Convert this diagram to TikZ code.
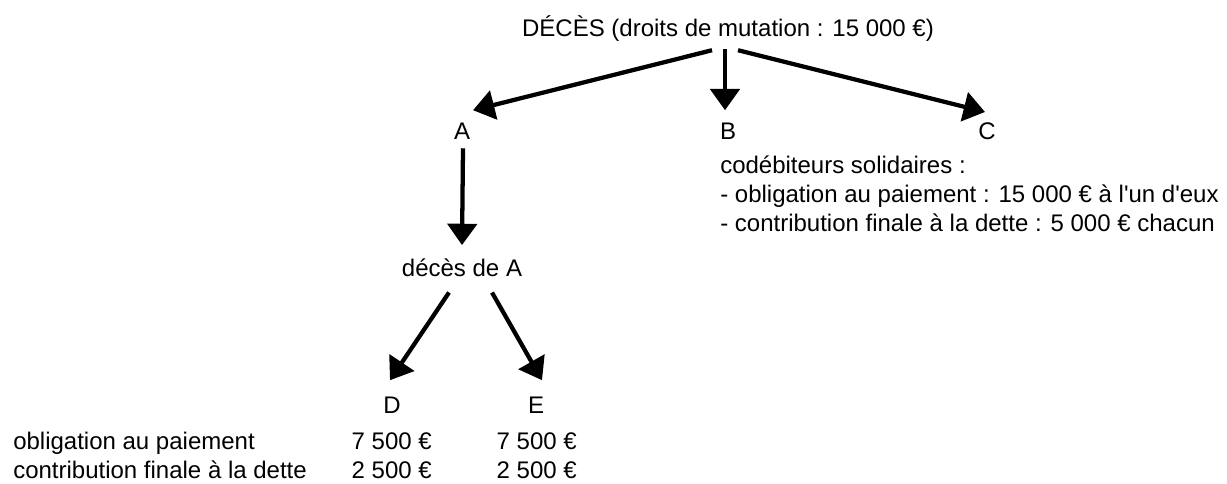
\documentclass[tikz,border=0pt]{standalone}
\usepackage{fontspec}
\setmainfont{Liberation Sans}
\usetikzlibrary{arrows.meta}
\begin{document}
\begin{tikzpicture}[x=0.75pt,y=-0.75pt,
	arr/.style={line width=3.2pt,-{Triangle[length=16pt,width=22pt]}},
	lbl/.style={inner sep=0pt,anchor=base,font=\fontsize{18}{22}\selectfont}]
	\useasboundingbox (0,0) rectangle (1227,484);
	\node[lbl] (deces) at (728,37) {DÉCÈS (droits de mutation : 15~000 €)};
	\node[lbl] (A) at (462,140) {A};
	\node[lbl] (B) at (728,140) {B};
	\node[lbl] (C) at (987,140) {C};
	\draw[arr] ([shift={(-16,8)}]deces.south) -- ([shift={(11,-13)}]A.north);
	\draw[arr] ([shift={(-3,7)}]deces.south) -- ([shift={(-3,-13)}]B.north);
	\draw[arr] ([shift={(10,8)}]deces.south) -- ([shift={(-2,-11)}]C.north);
	% codebiteurs B et C
	\node[lbl,anchor=base west] (solid) at (720,174) {codébiteurs solidaires :};
	\node[lbl,anchor=base west] (oblBC) at (720,203) {- obligation au paiement : 15~000 € à l\textquotesingle un d\textquotesingle eux};
	\node[lbl,anchor=base west] (contBC) at (720,232) {- contribution finale à la dette : 5~000 € chacun};
	% deces de A
	\node[lbl] (decesA) at (462,277) {décès de A};
	\draw[arr] ([shift={(1,8)}]A.south) -- ([shift={(0,-14)}]decesA.north);
	\node[lbl] (D) at (392,413) {D};
	\node[lbl] (E) at (536,413) {E};
	\draw[arr] ([shift={(-13,15)}]decesA.south) -- ([shift={(-2,-16)}]D.north);
	\draw[arr] ([shift={(30,15)}]decesA.south) -- ([shift={(6,-16)}]E.north);
	% tableau D et E
	\node[lbl,anchor=base west] (obl) at (13,449) {obligation au paiement};
	\node[lbl,anchor=base west] (cont) at (13,478) {contribution finale à la dette};
	\node[lbl,anchor=base east] (oblD) at (432,449) {7~500 €};
	\node[lbl,anchor=base east] (oblE) at (577,449) {7~500 €};
	\node[lbl,anchor=base east] (contD) at (432,478) {2~500 €};
	\node[lbl,anchor=base east] (contE) at (577,478) {2~500 €};
\end{tikzpicture}
\end{document}
